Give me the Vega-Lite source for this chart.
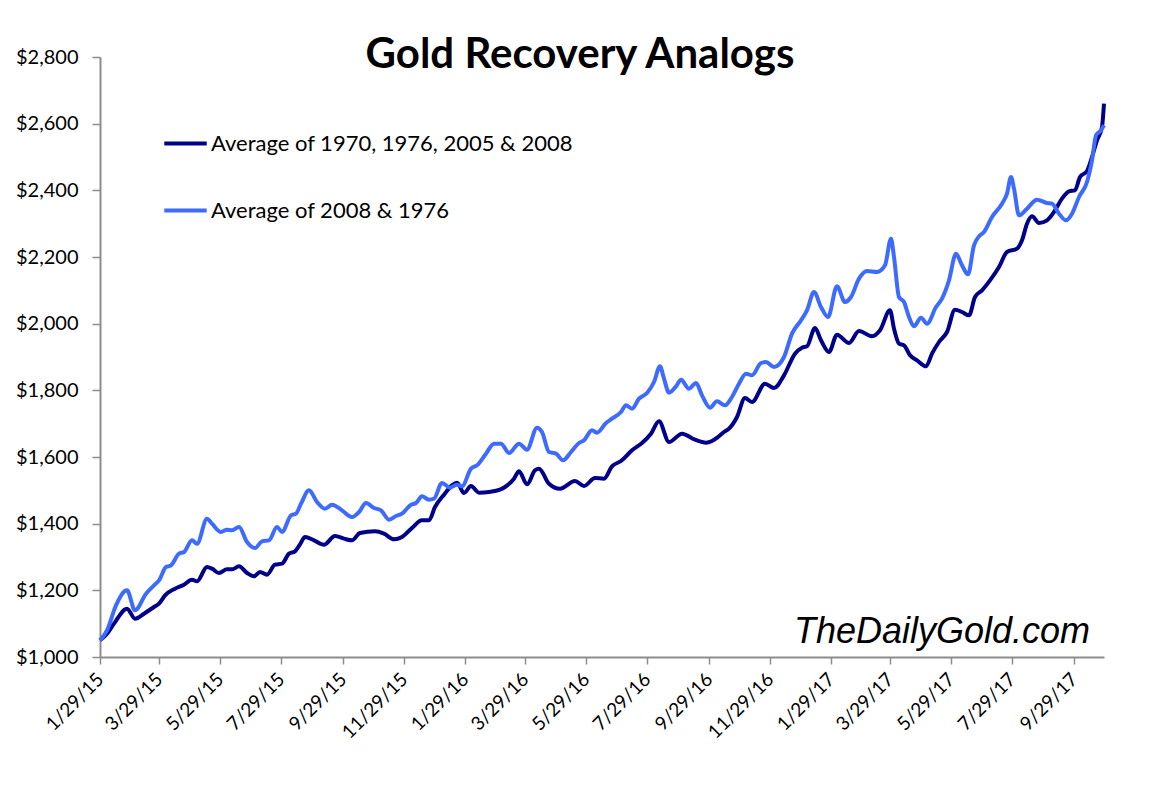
{
  "$schema": "https://vega.github.io/schema/vega-lite/v6.json",
  "width": 1004,
  "height": 600,
  "autosize": {"type": "none"},
  "padding": {"left": 100, "top": 57, "right": 57, "bottom": 131},
  "background": "white",
  "config": {"view": {"stroke": null}, "font": "Lato"},
  "title": {"text": "Gold Recovery Analogs", "font": "Lato", "fontSize": 42, "fontWeight": "bold", "color": "black", "anchor": "middle", "dx": -22, "baseline": "alphabetic", "offset": -63},
  "datasets": {
    "a": [
      {"date": "2015-01-29", "value": 1050}, {"date": "2015-02-05", "value": 1070}, {"date": "2015-02-12", "value": 1100}, {"date": "2015-02-25", "value": 1145},
      {"date": "2015-03-05", "value": 1115}, {"date": "2015-03-14", "value": 1130}, {"date": "2015-03-24", "value": 1150}, {"date": "2015-03-29", "value": 1160},
      {"date": "2015-04-04", "value": 1185}, {"date": "2015-04-14", "value": 1205}, {"date": "2015-04-23", "value": 1217}, {"date": "2015-05-01", "value": 1232},
      {"date": "2015-05-06", "value": 1227}, {"date": "2015-05-16", "value": 1270}, {"date": "2015-05-21", "value": 1265}, {"date": "2015-05-28", "value": 1252},
      {"date": "2015-06-05", "value": 1263}, {"date": "2015-06-10", "value": 1263}, {"date": "2015-06-17", "value": 1272}, {"date": "2015-06-25", "value": 1252},
      {"date": "2015-07-02", "value": 1242}, {"date": "2015-07-08", "value": 1255}, {"date": "2015-07-15", "value": 1247}, {"date": "2015-07-23", "value": 1277},
      {"date": "2015-07-30", "value": 1280}, {"date": "2015-08-06", "value": 1310}, {"date": "2015-08-12", "value": 1317}, {"date": "2015-08-17", "value": 1338},
      {"date": "2015-08-22", "value": 1360}, {"date": "2015-08-31", "value": 1350}, {"date": "2015-09-10", "value": 1337}, {"date": "2015-09-21", "value": 1363},
      {"date": "2015-09-30", "value": 1355}, {"date": "2015-10-08", "value": 1350}, {"date": "2015-10-16", "value": 1372}, {"date": "2015-10-31", "value": 1377},
      {"date": "2015-11-09", "value": 1370}, {"date": "2015-11-19", "value": 1353}, {"date": "2015-11-27", "value": 1360}, {"date": "2015-12-07", "value": 1387},
      {"date": "2015-12-17", "value": 1410}, {"date": "2015-12-24", "value": 1410}, {"date": "2015-12-30", "value": 1450}, {"date": "2016-01-08", "value": 1487},
      {"date": "2016-01-16", "value": 1515}, {"date": "2016-01-21", "value": 1523}, {"date": "2016-01-28", "value": 1492}, {"date": "2016-02-04", "value": 1513},
      {"date": "2016-02-12", "value": 1493}, {"date": "2016-02-22", "value": 1495}, {"date": "2016-03-04", "value": 1502}, {"date": "2016-03-09", "value": 1510},
      {"date": "2016-03-18", "value": 1535}, {"date": "2016-03-23", "value": 1557}, {"date": "2016-03-31", "value": 1518}, {"date": "2016-04-08", "value": 1560},
      {"date": "2016-04-12", "value": 1565}, {"date": "2016-04-22", "value": 1520}, {"date": "2016-05-03", "value": 1505}, {"date": "2016-05-18", "value": 1528},
      {"date": "2016-05-27", "value": 1513}, {"date": "2016-06-07", "value": 1537}, {"date": "2016-06-16", "value": 1535}, {"date": "2016-06-24", "value": 1572},
      {"date": "2016-07-03", "value": 1588}, {"date": "2016-07-14", "value": 1620}, {"date": "2016-07-24", "value": 1642}, {"date": "2016-08-02", "value": 1670},
      {"date": "2016-08-10", "value": 1707}, {"date": "2016-08-20", "value": 1645}, {"date": "2016-09-02", "value": 1670}, {"date": "2016-09-15", "value": 1652},
      {"date": "2016-09-26", "value": 1643}, {"date": "2016-10-02", "value": 1648}, {"date": "2016-10-08", "value": 1660}, {"date": "2016-10-14", "value": 1675},
      {"date": "2016-10-19", "value": 1685}, {"date": "2016-10-27", "value": 1720}, {"date": "2016-11-04", "value": 1777}, {"date": "2016-11-11", "value": 1765},
      {"date": "2016-11-24", "value": 1820}, {"date": "2016-12-03", "value": 1807}, {"date": "2016-12-13", "value": 1845}, {"date": "2016-12-24", "value": 1910},
      {"date": "2016-12-31", "value": 1928}, {"date": "2017-01-05", "value": 1932}, {"date": "2017-01-13", "value": 1987}, {"date": "2017-01-19", "value": 1950},
      {"date": "2017-01-27", "value": 1915}, {"date": "2017-02-04", "value": 1967}, {"date": "2017-02-16", "value": 1942}, {"date": "2017-02-26", "value": 1978},
      {"date": "2017-03-11", "value": 1962}, {"date": "2017-03-19", "value": 1980}, {"date": "2017-03-29", "value": 2040}, {"date": "2017-04-02", "value": 1985},
      {"date": "2017-04-07", "value": 1940}, {"date": "2017-04-12", "value": 1935}, {"date": "2017-04-18", "value": 1905}, {"date": "2017-04-25", "value": 1890},
      {"date": "2017-05-04", "value": 1872}, {"date": "2017-05-10", "value": 1910}, {"date": "2017-05-17", "value": 1945}, {"date": "2017-05-25", "value": 1975},
      {"date": "2017-06-02", "value": 2042}, {"date": "2017-06-09", "value": 2035}, {"date": "2017-06-16", "value": 2025}, {"date": "2017-06-22", "value": 2080},
      {"date": "2017-06-29", "value": 2100}, {"date": "2017-07-07", "value": 2130}, {"date": "2017-07-16", "value": 2170}, {"date": "2017-07-24", "value": 2215},
      {"date": "2017-08-03", "value": 2225}, {"date": "2017-08-08", "value": 2250}, {"date": "2017-08-13", "value": 2300}, {"date": "2017-08-18", "value": 2322},
      {"date": "2017-08-25", "value": 2302}, {"date": "2017-09-02", "value": 2310}, {"date": "2017-09-09", "value": 2335}, {"date": "2017-09-17", "value": 2375},
      {"date": "2017-09-24", "value": 2397}, {"date": "2017-09-30", "value": 2400}, {"date": "2017-10-05", "value": 2440}, {"date": "2017-10-12", "value": 2458},
      {"date": "2017-10-17", "value": 2500}, {"date": "2017-10-22", "value": 2550}, {"date": "2017-10-27", "value": 2590}, {"date": "2017-10-29", "value": 2660}
    ],
    "b": [
      {"date": "2015-01-29", "value": 1050}, {"date": "2015-02-05", "value": 1080}, {"date": "2015-02-14", "value": 1155}, {"date": "2015-02-25", "value": 1200},
      {"date": "2015-03-05", "value": 1140}, {"date": "2015-03-16", "value": 1190}, {"date": "2015-03-24", "value": 1215}, {"date": "2015-03-29", "value": 1230},
      {"date": "2015-04-05", "value": 1270}, {"date": "2015-04-10", "value": 1275}, {"date": "2015-04-18", "value": 1310}, {"date": "2015-04-23", "value": 1315},
      {"date": "2015-05-01", "value": 1350}, {"date": "2015-05-06", "value": 1340}, {"date": "2015-05-16", "value": 1415}, {"date": "2015-05-21", "value": 1400},
      {"date": "2015-05-30", "value": 1375}, {"date": "2015-06-05", "value": 1382}, {"date": "2015-06-10", "value": 1380}, {"date": "2015-06-17", "value": 1390},
      {"date": "2015-06-25", "value": 1345}, {"date": "2015-07-03", "value": 1327}, {"date": "2015-07-10", "value": 1347}, {"date": "2015-07-17", "value": 1350},
      {"date": "2015-07-25", "value": 1390}, {"date": "2015-07-30", "value": 1375}, {"date": "2015-08-08", "value": 1425}, {"date": "2015-08-13", "value": 1430},
      {"date": "2015-08-18", "value": 1460}, {"date": "2015-08-26", "value": 1500}, {"date": "2015-09-03", "value": 1465}, {"date": "2015-09-11", "value": 1445},
      {"date": "2015-09-18", "value": 1457}, {"date": "2015-09-28", "value": 1440}, {"date": "2015-10-08", "value": 1420}, {"date": "2015-10-15", "value": 1435},
      {"date": "2015-10-22", "value": 1462}, {"date": "2015-10-30", "value": 1447}, {"date": "2015-11-06", "value": 1440}, {"date": "2015-11-14", "value": 1412},
      {"date": "2015-11-21", "value": 1423}, {"date": "2015-11-27", "value": 1430}, {"date": "2015-12-06", "value": 1457}, {"date": "2015-12-11", "value": 1462},
      {"date": "2015-12-17", "value": 1482}, {"date": "2015-12-24", "value": 1472}, {"date": "2015-12-29", "value": 1475}, {"date": "2016-01-06", "value": 1522},
      {"date": "2016-01-14", "value": 1508}, {"date": "2016-01-21", "value": 1517}, {"date": "2016-01-26", "value": 1512}, {"date": "2016-02-04", "value": 1565},
      {"date": "2016-02-10", "value": 1575}, {"date": "2016-02-19", "value": 1610}, {"date": "2016-02-27", "value": 1640}, {"date": "2016-03-05", "value": 1640},
      {"date": "2016-03-13", "value": 1612}, {"date": "2016-03-23", "value": 1640}, {"date": "2016-03-31", "value": 1622}, {"date": "2016-04-10", "value": 1688},
      {"date": "2016-04-15", "value": 1675}, {"date": "2016-04-22", "value": 1615}, {"date": "2016-04-29", "value": 1610}, {"date": "2016-05-06", "value": 1590},
      {"date": "2016-05-14", "value": 1615}, {"date": "2016-05-22", "value": 1642}, {"date": "2016-05-27", "value": 1650}, {"date": "2016-06-04", "value": 1680},
      {"date": "2016-06-09", "value": 1673}, {"date": "2016-06-18", "value": 1702}, {"date": "2016-06-24", "value": 1715}, {"date": "2016-07-03", "value": 1735},
      {"date": "2016-07-08", "value": 1755}, {"date": "2016-07-14", "value": 1745}, {"date": "2016-07-21", "value": 1775}, {"date": "2016-07-29", "value": 1792},
      {"date": "2016-08-05", "value": 1825}, {"date": "2016-08-11", "value": 1872}, {"date": "2016-08-15", "value": 1835}, {"date": "2016-08-20", "value": 1793},
      {"date": "2016-08-27", "value": 1812}, {"date": "2016-09-01", "value": 1832}, {"date": "2016-09-09", "value": 1805}, {"date": "2016-09-16", "value": 1822},
      {"date": "2016-09-22", "value": 1785}, {"date": "2016-09-30", "value": 1748}, {"date": "2016-10-07", "value": 1767}, {"date": "2016-10-15", "value": 1755},
      {"date": "2016-10-22", "value": 1780}, {"date": "2016-10-29", "value": 1820}, {"date": "2016-11-05", "value": 1850}, {"date": "2016-11-11", "value": 1845},
      {"date": "2016-11-20", "value": 1882}, {"date": "2016-11-25", "value": 1885}, {"date": "2016-12-03", "value": 1870}, {"date": "2016-12-13", "value": 1900},
      {"date": "2016-12-21", "value": 1970}, {"date": "2016-12-30", "value": 2010}, {"date": "2017-01-05", "value": 2040}, {"date": "2017-01-12", "value": 2095},
      {"date": "2017-01-19", "value": 2050}, {"date": "2017-01-26", "value": 2020}, {"date": "2017-02-04", "value": 2112}, {"date": "2017-02-12", "value": 2065},
      {"date": "2017-02-18", "value": 2080}, {"date": "2017-02-26", "value": 2135}, {"date": "2017-03-06", "value": 2158}, {"date": "2017-03-16", "value": 2155},
      {"date": "2017-03-24", "value": 2175}, {"date": "2017-03-30", "value": 2255}, {"date": "2017-04-02", "value": 2200}, {"date": "2017-04-07", "value": 2080},
      {"date": "2017-04-12", "value": 2065}, {"date": "2017-04-17", "value": 2020}, {"date": "2017-04-22", "value": 1992}, {"date": "2017-04-29", "value": 2018},
      {"date": "2017-05-05", "value": 2000}, {"date": "2017-05-14", "value": 2050}, {"date": "2017-05-20", "value": 2075}, {"date": "2017-05-27", "value": 2130},
      {"date": "2017-06-03", "value": 2210}, {"date": "2017-06-09", "value": 2175}, {"date": "2017-06-15", "value": 2148}, {"date": "2017-06-21", "value": 2235},
      {"date": "2017-06-26", "value": 2262}, {"date": "2017-07-01", "value": 2275}, {"date": "2017-07-09", "value": 2320}, {"date": "2017-07-19", "value": 2360},
      {"date": "2017-07-24", "value": 2390}, {"date": "2017-07-28", "value": 2440}, {"date": "2017-07-31", "value": 2405}, {"date": "2017-08-05", "value": 2325},
      {"date": "2017-08-13", "value": 2345}, {"date": "2017-08-23", "value": 2372}, {"date": "2017-09-02", "value": 2362}, {"date": "2017-09-07", "value": 2360},
      {"date": "2017-09-14", "value": 2330}, {"date": "2017-09-21", "value": 2310}, {"date": "2017-09-27", "value": 2330}, {"date": "2017-10-04", "value": 2380},
      {"date": "2017-10-12", "value": 2425}, {"date": "2017-10-17", "value": 2490}, {"date": "2017-10-21", "value": 2565}, {"date": "2017-10-26", "value": 2580},
      {"date": "2017-10-29", "value": 2595}
    ],
    "wm": [{"label": "TheDailyGold.com"}]
  },
  "layer": [
    {
      "data": {"name": "a"},
      "mark": {"type": "line", "strokeWidth": 4, "interpolate": "monotone"},
      "encoding": {
        "x": {
          "field": "date", "type": "temporal",
          "scale": {"type": "utc", "domain": [{"year": 2015, "month": 1, "date": 29, "utc": true}, {"year": 2017, "month": 10, "date": 29, "utc": true}]},
          "axis": {
            "title": null, "grid": false,
            "values": [
              {"year": 2015, "month": 1, "date": 29, "utc": true}, {"year": 2015, "month": 3, "date": 29, "utc": true}, {"year": 2015, "month": 5, "date": 29, "utc": true},
              {"year": 2015, "month": 7, "date": 29, "utc": true}, {"year": 2015, "month": 9, "date": 29, "utc": true}, {"year": 2015, "month": 11, "date": 29, "utc": true},
              {"year": 2016, "month": 1, "date": 29, "utc": true}, {"year": 2016, "month": 3, "date": 29, "utc": true}, {"year": 2016, "month": 5, "date": 29, "utc": true},
              {"year": 2016, "month": 7, "date": 29, "utc": true}, {"year": 2016, "month": 9, "date": 29, "utc": true}, {"year": 2016, "month": 11, "date": 29, "utc": true},
              {"year": 2017, "month": 1, "date": 29, "utc": true}, {"year": 2017, "month": 3, "date": 29, "utc": true}, {"year": 2017, "month": 5, "date": 29, "utc": true},
              {"year": 2017, "month": 7, "date": 29, "utc": true}, {"year": 2017, "month": 9, "date": 29, "utc": true}
            ],
            "format": "%-m/%-d/%y",
            "labelAngle": -45, "labelAlign": "right", "labelBaseline": "middle",
            "labelFont": "Lato", "labelFontSize": 19, "labelColor": "black", "labelPadding": 12,
            "labelOverlap": false, "labelFlush": false, "labelBound": false,
            "domainColor": "#8c8c8c", "domainWidth": 2, "tickColor": "#8c8c8c", "tickWidth": 1.5, "tickSize": 7
          }
        },
        "y": {
          "field": "value", "type": "quantitative",
          "scale": {"domain": [1000, 2800], "nice": false, "zero": false},
          "axis": {
            "title": null, "grid": false,
            "values": [1000, 1200, 1400, 1600, 1800, 2000, 2200, 2400, 2600, 2800],
            "format": "$,.0f",
            "labelFont": "Lato", "labelFontSize": 20, "labelColor": "black", "labelPadding": 14,
            "labelOverlap": false, "labelFlush": false, "labelBound": false,
            "domainColor": "#8c8c8c", "domainWidth": 2, "tickColor": "#8c8c8c", "tickWidth": 1.5, "tickSize": 8
          }
        },
        "color": {
          "datum": "Average of 1970, 1976, 2005 & 2008",
          "scale": {"domain": ["Average of 1970, 1976, 2005 & 2008", "Average of 2008 & 1976"], "range": ["#00008b", "#3d6bff"]},
          "legend": {
            "title": null, "orient": "none", "legendX": 62, "legendY": 63,
            "symbolType": "stroke", "symbolSize": 1800, "symbolStrokeWidth": 4,
            "labelFont": "Lato", "labelFontSize": 22, "labelColor": "black", "labelOffset": 2,
            "rowPadding": 32, "padding": 0, "labelLimit": 600
          }
        }
      }
    },
    {
      "data": {"name": "b"},
      "mark": {"type": "line", "strokeWidth": 4, "interpolate": "monotone"},
      "encoding": {
        "x": {"field": "date", "type": "temporal"},
        "y": {"field": "value", "type": "quantitative"},
        "color": {"datum": "Average of 2008 & 1976"}
      }
    },
    {
      "data": {"name": "wm"},
      "mark": {"type": "text", "font": "Liberation Sans", "fontStyle": "italic", "fontSize": 36, "align": "right", "baseline": "alphabetic", "color": "black"},
      "encoding": {
        "x": {"datum": {"year": 2017, "month": 10, "date": 15, "utc": true}, "type": "temporal"},
        "y": {"datum": 1041, "type": "quantitative"},
        "text": {"field": "label"}
      }
    }
  ]
}
